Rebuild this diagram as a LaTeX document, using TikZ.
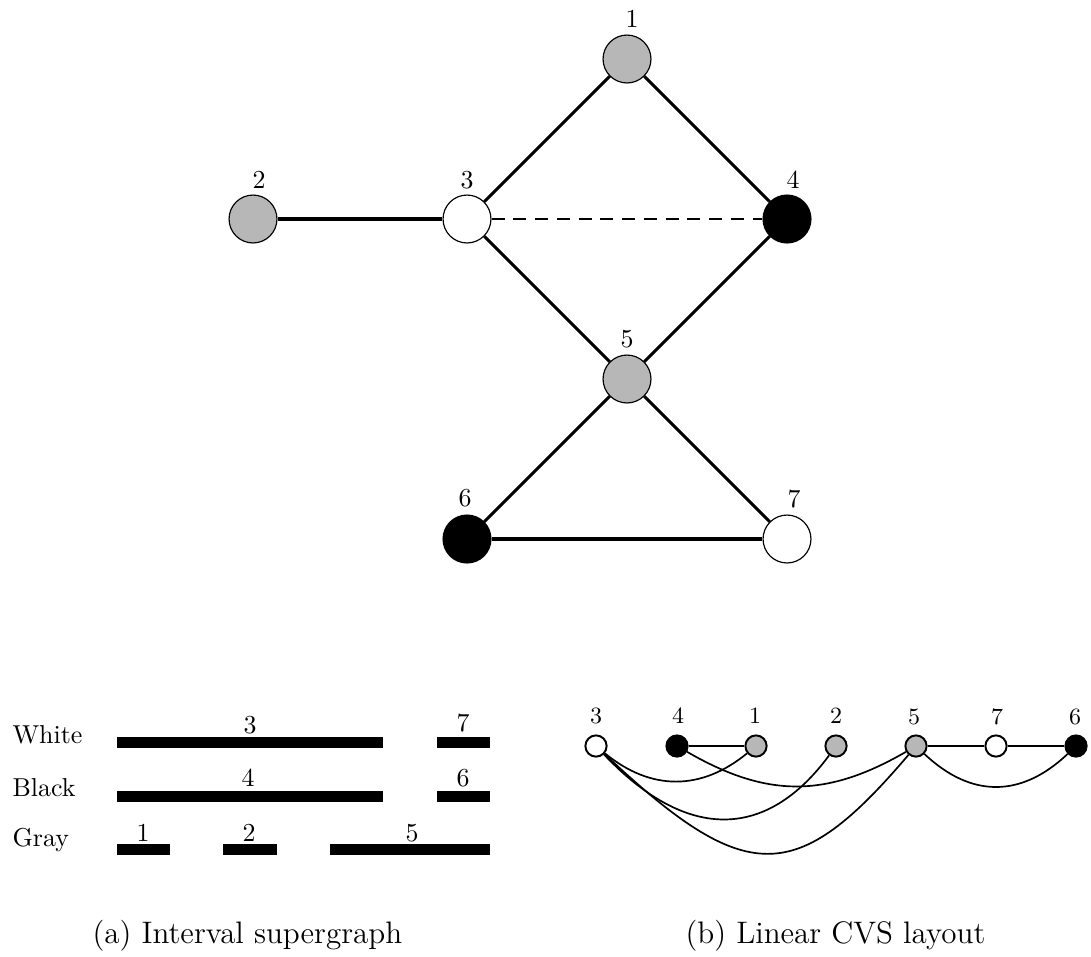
\documentclass[tikz,border=0pt]{standalone}
\definecolor{vgray}{RGB}{183,183,183}
\begin{document}
\begin{tikzpicture}[x=0.386pt,y=-0.386pt,
  vtx/.style={circle,draw=black,line width=0.45pt,minimum size=18.5pt,inner sep=0pt},
  svtx/.style={circle,draw=black,line width=0.75pt,minimum size=8.2pt,inner sep=0pt},
  wv/.style={fill=white},
  bv/.style={fill=black},
  gv/.style={fill=vgray},
  edge/.style={line width=1.2pt},
  dedge/.style={line width=0.8pt,dash pattern=on 5pt off 3.4pt},
  sedge/.style={line width=0.65pt},
  lab/.style={inner sep=0pt,font=\normalsize},
  slab/.style={inner sep=0pt,font=\small},
  rowlab/.style={inner sep=0pt,anchor=base west},
  captext/.style={inner sep=0pt,anchor=base west,font=\large},
  bar/.style={fill=black}]
\useasboundingbox (0,0) rectangle (1091,956);

% ---------- top graph ----------
\node[vtx,gv] (t1) at (627,59) {};
\node[vtx,gv] (t2) at (253,219) {};
\node[vtx,wv] (t3) at (467,219) {};
\node[vtx,bv] (t4) at (787,219) {};
\node[vtx,gv] (t5) at (627,379) {};
\node[vtx,bv] (t6) at (467,539) {};
\node[vtx,wv] (t7) at (787,539) {};

\node[lab] (tl1) at (632,19) {1};
\node[lab] (tl2) at (259,180) {2};
\node[lab] (tl3) at (467,180) {3};
\node[lab] (tl4) at (793,180) {4};
\node[lab] (tl5) at (627,339) {5};
\node[lab] (tl6) at (465,498) {6};
\node[lab] (tl7) at (794,499) {7};

\draw[edge] (t1) -- (t3);
\draw[edge] (t1) -- (t4);
\draw[edge] (t2) -- (t3);
\draw[dedge] (t3) -- (t4);
\draw[edge] (t3) -- (t5);
\draw[edge] (t4) -- (t5);
\draw[edge] (t5) -- (t6);
\draw[edge] (t5) -- (t7);
\draw[edge] (t6) -- (t7);

% ---------- (a) interval supergraph ----------
\node[rowlab] (rw) at (12,743) {White};
\node[rowlab] (rb) at (12,796) {Black};
\node[rowlab] (rg) at (12,846) {Gray};

\fill[bar] (117,737) rectangle (383,748);
\fill[bar] (437,737) rectangle (490,748);
\fill[bar] (117,791) rectangle (383,802);
\fill[bar] (437,791) rectangle (490,802);
\fill[bar] (117,844) rectangle (170,855);
\fill[bar] (223,844) rectangle (277,855);
\fill[bar] (330,844) rectangle (490,855);

\node[lab] (il3) at (250,725) {3};
\node[lab] (il7) at (463,723) {7};
\node[lab] (il4) at (248,778) {4};
\node[lab] (il6) at (463,778) {6};
\node[lab] (il1) at (143,833) {1};
\node[lab] (il2) at (249,833) {2};
\node[lab] (il5) at (412,833) {5};

% ---------- (b) linear CVS layout ----------
\node[svtx,wv] (c3) at (596,746) {};
\node[svtx,bv] (c4) at (677,746) {};
\node[svtx,gv] (c1) at (756,746) {};
\node[svtx,gv] (c2) at (836,746) {};
\node[svtx,gv] (c5) at (916,746) {};
\node[svtx,wv] (c7) at (996,746) {};
\node[svtx,bv] (c6) at (1076,746) {};

\node[slab] (cl3) at (596,716) {3};
\node[slab] (cl4) at (678,716) {4};
\node[slab] (cl1) at (755,716) {1};
\node[slab] (cl2) at (836,716) {2};
\node[slab] (cl5) at (914,717) {5};
\node[slab] (cl7) at (997,717) {7};
\node[slab] (cl6) at (1075,717) {6};

\draw[sedge] (c4) -- (c1);
\draw[sedge] (c5) -- (c7);
\draw[sedge] (c7) -- (c6);
\draw[sedge] (c3) .. controls +(55,45) and +(-55,45) .. (c1);
\draw[sedge] (c4) .. controls +(90,52) and +(-90,52) .. (c5);
\draw[sedge] (c5) .. controls +(55,52) and +(-55,52) .. (c6);
\draw[sedge] (c3) .. controls +(90,95) and +(-70,95) .. (c2);
\draw[sedge] (c3) .. controls +(150,141) and +(-120,141) .. (c5);

% ---------- captions ----------
\node[captext] (capa) at (92,943) {(a) Interval supergraph};
\node[captext] (capb) at (685,943) {(b) Linear CVS layout};
\end{tikzpicture}
\end{document}
